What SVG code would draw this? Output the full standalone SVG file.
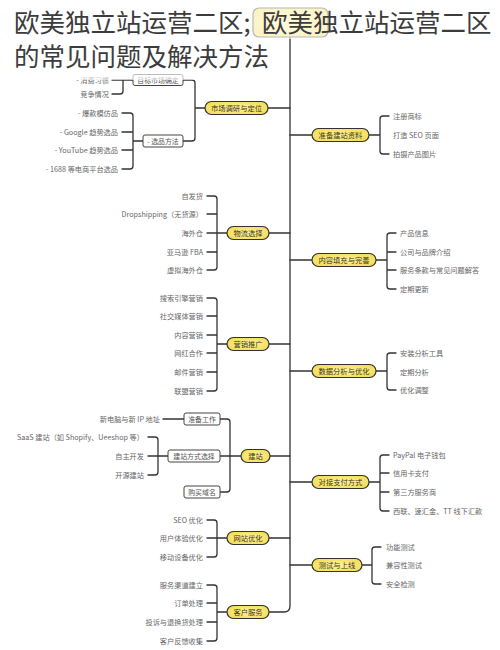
<svg xmlns="http://www.w3.org/2000/svg" width="500" height="650" viewBox="0 0 500 650">
<defs>
<radialGradient id="yg" cx="50%" cy="50%" r="60%">
<stop offset="0%" stop-color="#fff3a0"/>
<stop offset="100%" stop-color="#f3dc55"/>
</radialGradient>
<style>
text{font-family:"Noto Sans CJK SC","Noto Sans",sans-serif}
.pill{fill:url(#yg);stroke:#333;stroke-width:1.2}
.box{fill:#fff;stroke:#444;stroke-width:1}
.ln{fill:none;stroke:#333;stroke-width:1.3;stroke-linecap:round;stroke-linejoin:round}
.lf{font-size:7.2px;fill:#666;dominant-baseline:central}
.l{text-anchor:end}
.pt{font-size:7.3px;fill:#3a3520;text-anchor:middle;dominant-baseline:central}
.bt{font-size:6.9px;fill:#555;text-anchor:middle;dominant-baseline:central}
.title{font-size:25.5px;fill:#3c3c3c}
</style>
</defs>
<rect width="500" height="650" fill="#fff"/>

<g id="connectors">
<path class="ln" d="M290,37 V606 Q290,612 284,612 H269"/>
<path class="ln" d="M268,108 H290 M205,108 H195 M183,80 H192 Q195,80 195,83 V138 Q195,141 192,141 H183"/>
<path class="ln" d="M112,80 H133 M123,80 V91 Q123,94 120,94 H112"/>
<path class="ln" d="M122,113 H130 Q133,113 133,116 V166 Q133,169 130,169 H122 M122,132 H133 M122,150 H133 M133,141 H143"/>
<path class="ln" d="M269,233 H290 M227,233 H217 M207,196 H214 Q217,196 217,199 V267 Q217,270 214,270 H207 M207,214 H217 M207,233 H217 M207,252 H217"/>
<path class="ln" d="M269,344 H290 M227,344 H217 M207,298 H214 Q217,298 217,301 V388 Q217,391 214,391 H207 M207,316 H217 M207,335 H217 M207,353 H217 M207,372 H217"/>
<path class="ln" d="M270,456 H290 M241,456 H230 M220,419 H227 Q230,419 230,422 V489 Q230,492 227,492 H220 M220,456 H230"/>
<path class="ln" d="M163,419 H184"/>
<path class="ln" d="M148,437 H155 Q158,437 158,440 V472 Q158,475 155,475 H148 M148,456 H168"/>
<path class="ln" d="M269,538 H290 M227,538 H217 M207,520 H214 Q217,520 217,523 V554 Q217,557 214,557 H207 M207,538 H217"/>
<path class="ln" d="M227,612 H217 M207,585 H214 Q217,585 217,588 V638 Q217,641 214,641 H207 M207,603 H217 M207,622 H217"/>
<path class="ln" d="M290,135 H312 M369,135 H380 M389,116 H383 Q380,116 380,119 V151 Q380,154 383,154 H389"/>
<path class="ln" d="M290,260 H312 M376,260 H387 M396,233 H390 Q387,233 387,236 V286 Q387,289 390,289 H396 M387,252 H396 M387,270 H396"/>
<path class="ln" d="M290,371 H312 M376,371 H387 M396,353 H390 Q387,353 387,356 V387 Q387,390 390,390 H396"/>
<path class="ln" d="M290,482 H312 M369,482 H380 M389,455 H383 Q380,455 380,458 V508 Q380,511 383,511 H389 M380,473 H389 M380,492 H389"/>
<path class="ln" d="M290,565 H312 M362,565 H372 M381,547 H375 Q372,547 372,550 V581 Q372,584 375,584 H381"/>
</g>

<g id="root">
<rect class="pill" x="253" y="8" width="75" height="29" rx="6"/>
</g>

<g id="n-market">
<rect class="pill" x="205" y="101.5" width="63" height="13" rx="6.5"/>
<text class="pt" x="236.5" y="108">市场调研与定位</text>
</g>
<g id="n-target">
<rect class="box" x="133" y="74.5" width="50" height="11" rx="2"/>
<text class="bt" x="158" y="80">目标市场确定</text>
<text class="lf l" x="109" y="80">- 消费习惯</text>
<text class="lf l" x="109" y="94">竞争情况</text>
</g>
<g id="n-select">
<rect class="box" x="143" y="135" width="40" height="12" rx="2"/>
<text class="bt" x="163" y="141">- 选品方法</text>
<text class="lf l" x="118" y="113">- 爆款模仿品</text>
<text class="lf l" x="118" y="132">- Google 趋势选品</text>
<text class="lf l" x="118" y="150">- YouTube 趋势选品</text>
<text class="lf l" x="118" y="169">- 1688 等电商平台选品</text>
</g>

<g id="n-logistics">
<rect class="pill" x="227" y="226.5" width="42" height="13" rx="6.5"/>
<text class="pt" x="248" y="233">物流选择</text>
<text class="lf l" x="203" y="196">自发货</text>
<text class="lf l" x="203" y="214">Dropshipping（无货源）</text>
<text class="lf l" x="203" y="233">海外仓</text>
<text class="lf l" x="203" y="252">亚马逊 FBA</text>
<text class="lf l" x="203" y="270">虚拟海外仓</text>
</g>

<g id="n-marketing">
<rect class="pill" x="227" y="337.5" width="42" height="13" rx="6.5"/>
<text class="pt" x="248" y="344">营销推广</text>
<text class="lf l" x="203" y="298">搜索引擎营销</text>
<text class="lf l" x="203" y="316">社交媒体营销</text>
<text class="lf l" x="203" y="335">内容营销</text>
<text class="lf l" x="203" y="353">网红合作</text>
<text class="lf l" x="203" y="372">邮件营销</text>
<text class="lf l" x="203" y="391">联盟营销</text>
</g>

<g id="n-build">
<rect class="pill" x="241" y="449.5" width="29" height="13" rx="6.5"/>
<text class="pt" x="255.5" y="456">建站</text>
</g>
<g id="n-prep">
<rect class="box" x="184" y="413" width="36" height="12" rx="2"/>
<text class="bt" x="202" y="419">准备工作</text>
<text class="lf l" x="160" y="419">新电脑与新 IP 地址</text>
</g>
<g id="n-method">
<rect class="box" x="168" y="450" width="52" height="12" rx="2"/>
<text class="bt" x="194" y="456">建站方式选择</text>
<text class="lf l" x="144" y="437">SaaS 建站（如 Shopify、Ueeshop 等）</text>
<text class="lf l" x="144" y="456">自主开发</text>
<text class="lf l" x="144" y="475">开源建站</text>
</g>
<g id="n-domain">
<rect class="box" x="184" y="486" width="36" height="12" rx="2"/>
<text class="bt" x="202" y="492">购买域名</text>
</g>

<g id="n-optimize">
<rect class="pill" x="227" y="531.5" width="42" height="13" rx="6.5"/>
<text class="pt" x="248" y="538">网站优化</text>
<text class="lf l" x="203" y="520">SEO 优化</text>
<text class="lf l" x="203" y="538">用户体验优化</text>
<text class="lf l" x="203" y="557">移动设备优化</text>
</g>

<g id="n-service">
<rect class="pill" x="227" y="605.5" width="42" height="13" rx="6.5"/>
<text class="pt" x="248" y="612">客户服务</text>
<text class="lf l" x="203" y="585">服务渠道建立</text>
<text class="lf l" x="203" y="603">订单处理</text>
<text class="lf l" x="203" y="622">投诉与退换货处理</text>
<text class="lf l" x="203" y="641">客户反馈收集</text>
</g>

<g id="n-materials">
<rect class="pill" x="312" y="128.5" width="57" height="13" rx="6.5"/>
<text class="pt" x="340.5" y="135">准备建站资料</text>
<text class="lf" x="393" y="116">注册商标</text>
<text class="lf" x="393" y="135">打造 SEO 页面</text>
<text class="lf" x="393" y="154">拍摄产品图片</text>
</g>

<g id="n-content">
<rect class="pill" x="312" y="253.5" width="64" height="13" rx="6.5"/>
<text class="pt" x="344" y="260">内容填充与完善</text>
<text class="lf" x="400" y="233">产品信息</text>
<text class="lf" x="400" y="252">公司与品牌介绍</text>
<text class="lf" x="400" y="270">服务条款与常见问题解答</text>
<text class="lf" x="400" y="289">定期更新</text>
</g>

<g id="n-data">
<rect class="pill" x="312" y="364.5" width="64" height="13" rx="6.5"/>
<text class="pt" x="344" y="371">数据分析与优化</text>
<text class="lf" x="400" y="353">安装分析工具</text>
<text class="lf" x="400" y="372">定期分析</text>
<text class="lf" x="400" y="390">优化调整</text>
</g>

<g id="n-payment">
<rect class="pill" x="312" y="475.5" width="57" height="13" rx="6.5"/>
<text class="pt" x="340.5" y="482">对接支付方式</text>
<text class="lf" x="393" y="455">PayPal 电子钱包</text>
<text class="lf" x="393" y="473">信用卡支付</text>
<text class="lf" x="393" y="492">第三方服务商</text>
<text class="lf" x="393" y="511">西联、速汇金、TT 线下汇款</text>
</g>

<g id="n-test">
<rect class="pill" x="312" y="558.5" width="50" height="13" rx="6.5"/>
<text class="pt" x="337" y="565">测试与上线</text>
<text class="lf" x="386" y="547">功能测试</text>
<text class="lf" x="386" y="565">兼容性测试</text>
<text class="lf" x="386" y="584">安全检测</text>
</g>

<g id="title">
<rect x="10" y="5" width="484" height="34" fill="#fff" fill-opacity="0.65"/>
<rect x="10" y="42" width="266" height="38" fill="#fff" fill-opacity="0.65"/>
<text class="title" x="14" y="32">欧美独立站运营二区;<tspan x="262">欧美独立站运营二区</tspan></text>
<text class="title" x="14" y="66">的常见问题及解决方法</text>
</g>
</svg>
